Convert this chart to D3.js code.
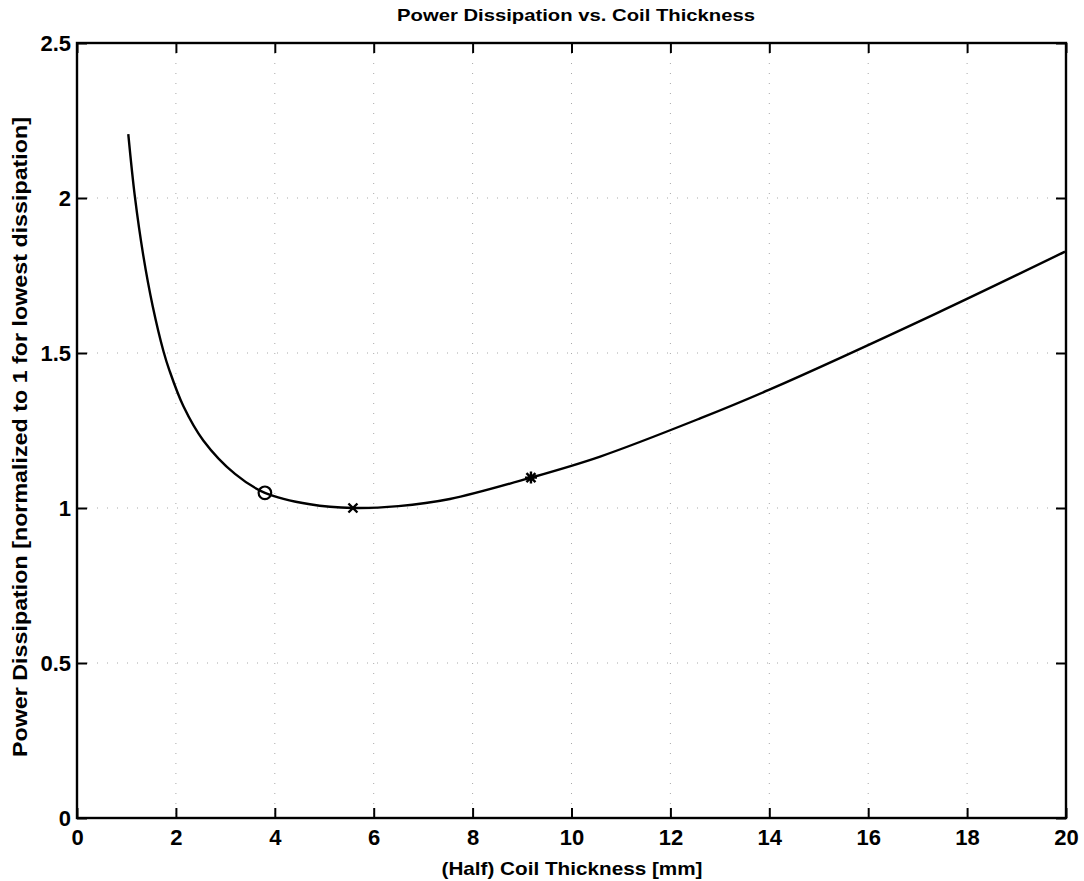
<!DOCTYPE html>
<html>
<head>
<meta charset="utf-8">
<script src="https://cdn.jsdelivr.net/npm/d3@7"></script>
<style>
  html, body { margin: 0; padding: 0; background: #fff; }
  svg { display: block; }
  text { font-family: "Liberation Sans", Arial, Helvetica, sans-serif; font-weight: bold; fill: #000; }
</style>
</head>
<body>
<svg id="chart" width="1084" height="881"></svg>
<script>
// ---- data ----
const thickness = [1.037, 1.17, 1.34, 1.53, 1.75, 1.867, 2.15, 2.554, 3.195, 3.80, 4.71, 5.58, 6.5, 7.54, 9.18, 10.58, 12.6, 13.99, 17.38, 19.98];
const dissipation = [2.206, 2.005, 1.815, 1.652, 1.505, 1.445, 1.329, 1.218, 1.110, 1.049, 1.012, 1.000, 1.006, 1.029, 1.098, 1.166, 1.289, 1.381, 1.628, 1.827];
const circleMark = [3.80, 1.049];
const crossMark = [5.58, 1.0];
const starMark = [9.18, 1.098];
const xTicks = [0, 2, 4, 6, 8, 10, 12, 14, 16, 18, 20];
const yTicks = [0, 0.5, 1, 1.5, 2, 2.5];
const titleText = "Power Dissipation vs. Coil Thickness";
const xLabelText = "(Half) Coil Thickness [mm]";
const yLabelText = "Power Dissipation [normalized to 1 for lowest dissipation]";

// ---- layout ----
const L = 77, R = 1066, T = 43, B = 818;
const svg = d3.select("#chart");
const x = d3.scaleLinear().domain([0, 20]).range([L, R]);
const y = d3.scaleLinear().domain([0, 2.5]).range([B, T]);

// grid
const grid = svg.append("g").attr("stroke", "#a8a8a8").attr("stroke-width", 1).attr("stroke-dasharray", "1,9");
grid.selectAll("line.gx").data(xTicks.slice(1, -1)).join("line")
  .attr("x1", d => x(d)).attr("x2", d => x(d)).attr("y1", T).attr("y2", B);
grid.selectAll("line.gy").data(yTicks.slice(1, -1)).join("line")
  .attr("y1", d => y(d)).attr("y2", d => y(d)).attr("x1", L).attr("x2", R);

// axes
const tickLen = 10;
const xAxisB = d3.axisBottom(x).tickValues(xTicks).tickFormat(d3.format("d")).tickSize(-tickLen).tickPadding(11);
const xAxisT = d3.axisTop(x).tickValues(xTicks).tickFormat("").tickSize(-tickLen);
const yAxisL = d3.axisLeft(y).tickValues(yTicks).tickFormat(d => d3.format("")(d)).tickSize(-tickLen).tickPadding(6);
const yAxisR = d3.axisRight(y).tickValues(yTicks).tickFormat("").tickSize(-tickLen);

function styleAxis(g) {
  g.select(".domain").remove();
  g.selectAll(".tick line").attr("stroke", "#000").attr("stroke-width", 2);
  g.selectAll(".tick text").style("font-size", "22px").style("font-family", "'Liberation Sans', Arial, sans-serif").style("font-weight", "bold").attr("fill", "#000");
}
svg.append("g").attr("transform", `translate(0,${B})`).call(xAxisB).call(styleAxis);
svg.append("g").attr("transform", `translate(0,${T})`).call(xAxisT).call(styleAxis);
svg.append("g").attr("transform", `translate(${L},0)`).call(yAxisL).call(styleAxis);
svg.append("g").attr("transform", `translate(${R},0)`).call(yAxisR).call(styleAxis);

// frame
svg.append("rect").attr("x", L).attr("y", T).attr("width", R - L).attr("height", B - T)
  .attr("fill", "none").attr("stroke", "#000").attr("stroke-width", 2.4);

// curve
const pts = thickness.map((t, i) => [t, dissipation[i]]);
const line = d3.line().x(d => x(d[0])).y(d => y(d[1])).curve(d3.curveCatmullRom.alpha(0.5));
svg.append("path").datum(pts).attr("d", line).attr("fill", "none").attr("stroke", "#000").attr("stroke-width", 2.4);

// markers
svg.append("circle").attr("cx", x(circleMark[0])).attr("cy", y(circleMark[1])).attr("r", 6.3)
  .attr("fill", "none").attr("stroke", "#000").attr("stroke-width", 2.2);
const cx = x(crossMark[0]), cy = y(crossMark[1]), s = 4.5;
svg.append("path").attr("d", `M${cx - s},${cy - s}L${cx + s},${cy + s}M${cx - s},${cy + s}L${cx + s},${cy - s}`)
  .attr("stroke", "#000").attr("stroke-width", 2.4);
const sx = x(starMark[0]), sy = y(starMark[1]), r = 6;
svg.append("path").attr("d", `M${sx - r},${sy}L${sx + r},${sy}M${sx},${sy - r}L${sx},${sy + r}M${sx - r * 0.75},${sy - r * 0.75}L${sx + r * 0.75},${sy + r * 0.75}M${sx - r * 0.75},${sy + r * 0.75}L${sx + r * 0.75},${sy - r * 0.75}`)
  .attr("stroke", "#000").attr("stroke-width", 2.4);

// texts
svg.append("text").attr("x", 576).attr("y", 21).attr("text-anchor", "middle")
  .attr("textLength", 358).attr("lengthAdjust", "spacingAndGlyphs")
  .style("font-size", "17px").text(titleText);
svg.append("text").attr("x", 572).attr("y", 875).attr("text-anchor", "middle")
  .attr("textLength", 261).attr("lengthAdjust", "spacingAndGlyphs")
  .style("font-size", "19px").text(xLabelText);
svg.append("text").attr("transform", `translate(27,437) rotate(-90)`).attr("text-anchor", "middle")
  .attr("textLength", 640).attr("lengthAdjust", "spacingAndGlyphs")
  .style("font-size", "19.5px").text(yLabelText);
</script>
</body>
</html>
